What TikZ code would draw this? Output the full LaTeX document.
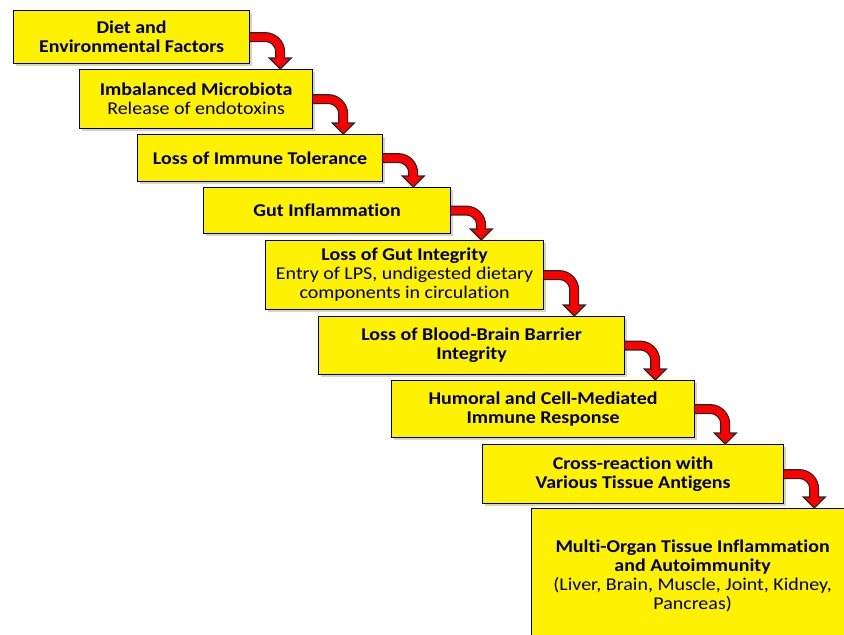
\documentclass[tikz,border=0pt]{standalone}
\usepackage{fontspec}
\setmainfont{Carlito}[FakeStretch=1.11,Ligatures=NoCommon]
\usetikzlibrary{calc,shadows}

\begin{document}
\begin{tikzpicture}[x=1pt,y=1pt]
\tikzset{stepbox/.style={draw=black,line width=1.2pt,fill=yellow,align=center,anchor=north west,inner sep=0pt,
    font=\fontsize{18}{19}\selectfont,
    drop shadow={shadow xshift=2.5pt,shadow yshift=-2.5pt,opacity=0.35}}}
\tikzset{turnout/.style={line width=10pt,draw=black!85}}
\tikzset{turnin/.style={line width=7.6pt,draw=red}}
\tikzset{turntip/.style={fill=red,draw=black!85,line width=1.2pt,line join=miter}}
\useasboundingbox (0,0) rectangle (844,-635);
% the chain of steps
\node[stepbox,minimum width=236,minimum height=53] (diet) at (13,-10)
    {\textbf{Diet and}\\\textbf{Environmental Factors}};
\node[stepbox,minimum width=233,minimum height=59] (microbiota) at (79,-69)
    {\textbf{Imbalanced Microbiota}\\Release of endotoxins};
\node[stepbox,minimum width=245,minimum height=47] (tolerance) at (137,-134)
    {\textbf{Loss of Immune Tolerance}};
\node[stepbox,minimum width=247,minimum height=46] (gutinfl) at (203,-187)
    {\textbf{Gut Inflammation}};
\node[stepbox,minimum width=278,minimum height=69] (integrity) at (265,-240)
    {\textbf{Loss of Gut Integrity}\\Entry of LPS, undigested dietary\\components in circulation};
\node[stepbox,minimum width=306,minimum height=58] (bbb) at (318,-316)
    {\textbf{Loss of Blood-Brain Barrier}\\\textbf{Integrity}};
\node[stepbox,minimum width=303,minimum height=57] (immresp) at (391,-380)
    {\textbf{Humoral and Cell-Mediated}\\\textbf{Immune Response}};
\node[stepbox,minimum width=301,minimum height=59] (crossreact) at (482,-444)
    {\textbf{Cross-reaction with}\\\textbf{Various Tissue Antigens}};
\node[stepbox,minimum width=322,minimum height=134] (multiorgan) at (531,-508)
    {\textbf{Multi-Organ Tissue Inflammation}\\\textbf{and Autoimmunity}\\(Liver, Brain, Muscle, Joint, Kidney,\\Pancreas)};
% red turning arrows
\foreach \a/\b in {diet/microbiota,microbiota/tolerance,tolerance/gutinfl,gutinfl/integrity,
    integrity/bbb,bbb/immresp,immresp/crossreact,crossreact/multiorgan}{
  \path (\a.east) ++(30,0) coordinate (bend);
  \coordinate (tip) at (bend |- \b.north);
  \draw[turnout] (\a.east) -- ++(15,0) arc[start angle=90,end angle=0,radius=15] -- ($(tip)+(0,11)$);
  \filldraw[turntip] ($(tip)+(-11,11)$) -- (tip) -- ($(tip)+(11,11)$) -- cycle;
  \draw[turnin] (\a.east) -- ++(15,0) arc[start angle=90,end angle=0,radius=15] -- ($(tip)+(0,7)$);
}
\end{tikzpicture}
\end{document}
